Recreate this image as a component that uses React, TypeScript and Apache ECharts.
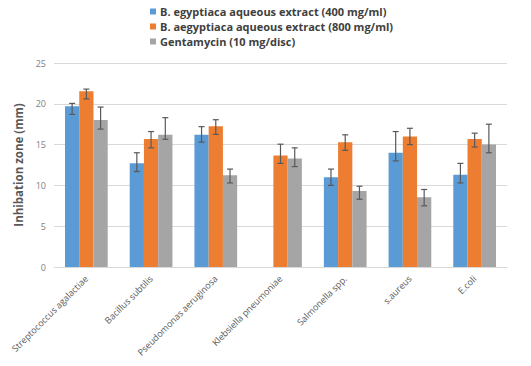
import React, { useEffect, useRef } from "react";
import * as echarts from "echarts";

const categories = [
  "Streptococcus agalactiae",
  "Bacillus subtilis",
  "Pseudomonas aeruginosa",
  "Klebsiella pneumoniae",
  "Salmonella spp.",
  "s.aureus",
  "E.coli",
];

const seriesNames = [
  "B. egyptiaca aqueous extract (400 mg/ml)",
  "B. aegyptiaca aqueous extract (800 mg/ml)",
  "Gentamycin (10 mg/disc)",
];

const colors = ["#5B9BD5", "#ED7D31", "#A5A5A5"];

const values400 = [19.7, 12.7, 16.2, 0, 11.0, 14.0, 11.3];
const low400 = [18.7, 11.7, 15.3, null, 10.0, 13.0, 10.3];
const high400 = [20.05, 14.0, 17.2, null, 12.0, 16.6, 12.7];

const values800 = [21.55, 15.7, 17.25, 13.65, 15.3, 16.0, 15.7];
const low800 = [20.6, 14.6, 16.25, 12.7, 14.3, 15.0, 14.7];
const high800 = [21.8, 16.6, 18.05, 15.05, 16.2, 17.0, 16.4];

const valuesGen = [18.0, 16.2, 11.25, 13.3, 9.3, 8.55, 15.0];
const lowGen = [16.9, 15.65, 10.3, 12.3, 8.3, 7.5, 14.0];
const highGen = [19.6, 18.3, 12.0, 14.6, 9.9, 9.5, 17.5];

const yTicks = { min: 0, max: 25, interval: 5 };

const FONT = "Open Sans";

export default function App() {
  const ref = useRef<HTMLDivElement>(null);

  useEffect(() => {
    if (!ref.current) return;
    const chart = echarts.init(ref.current, undefined, { renderer: "svg" });
    const allValues = [values400, values800, valuesGen];
    const allLow = [low400, low800, lowGen];
    const allHigh = [high400, high800, highGen];
    const BAR = 0.22;

    const barSeries = allValues.map((vals, i) => ({
      type: "bar",
      name: seriesNames[i],
      data: vals,
      barWidth: BAR * 100 + "%",
      barGap: "0%",
      itemStyle: { color: colors[i] },
    }));

    const errSeries = allValues.map((_, i) => ({
      type: "custom",
      name: seriesNames[i] + " err",
      encode: { x: 0, y: [1, 2] },
      z: 10,
      silent: true,
      data: categories
        .map((_c, k) => [k, allLow[i][k], allHigh[i][k]])
        .filter((d) => d[1] != null),
      renderItem: (params: any, api: any) => {
        const x = api.value(0);
        const lo = api.coord([x, api.value(1)]);
        const hi = api.coord([x, api.value(2)]);
        const band = api.size([1, 0])[0];
        const cx = lo[0] + (i - 1) * band * BAR;
        const cap = 3;
        const style = { stroke: "#595959", lineWidth: 1.2 };
        return {
          type: "group",
          children: [
            { type: "line", shape: { x1: cx, y1: hi[1], x2: cx, y2: lo[1] }, style },
            { type: "line", shape: { x1: cx - cap, y1: hi[1], x2: cx + cap, y2: hi[1] }, style },
            { type: "line", shape: { x1: cx - cap, y1: lo[1], x2: cx + cap, y2: lo[1] }, style },
          ],
        };
      },
    }));

    chart.setOption({
      animation: false,
      textStyle: { fontFamily: FONT },
      legend: {
        data: seriesNames,
        orient: "vertical",
        left: 145,
        top: 1,
        itemWidth: 6,
        itemHeight: 6,
        itemGap: 4,
        icon: "rect",
        textStyle: { fontFamily: FONT, fontSize: 11, fontWeight: "bold", color: "#404040", padding: [0, 0, 0, -1] },
      },
      grid: { left: 54, right: 24, top: 63, bottom: 99 },
      xAxis: {
        type: "category",
        data: categories,
        axisTick: { show: false },
        axisLine: { lineStyle: { color: "#d9d9d9" } },
        axisLabel: {
          rotate: 45,
          interval: 0,
          fontSize: 9,
          color: "#595959",
          fontFamily: FONT,
          margin: 10,
        },
      },
      yAxis: {
        type: "value",
        min: yTicks.min,
        max: yTicks.max,
        interval: yTicks.interval,
        name: "Inhibation zone (mm)",
        nameLocation: "middle",
        nameGap: 28,
        nameTextStyle: { fontFamily: FONT, fontSize: 11.5, fontWeight: "bold", color: "#595959", padding: [0, 0, 0, 0] },
        axisLine: { show: false },
        axisTick: { show: false },
        axisLabel: { fontSize: 9, color: "#7f7f7f", fontFamily: FONT, margin: 8 },
        splitLine: { lineStyle: { color: "#d9d9d9" } },
      },
      series: [...barSeries, ...errSeries],
    });
    return () => chart.dispose();
  }, []);

  return (
    <div
      ref={ref}
      style={{ position: "fixed", left: 0, top: 0, width: 531, height: 366, background: "#fff" }}
    />
  );
}
